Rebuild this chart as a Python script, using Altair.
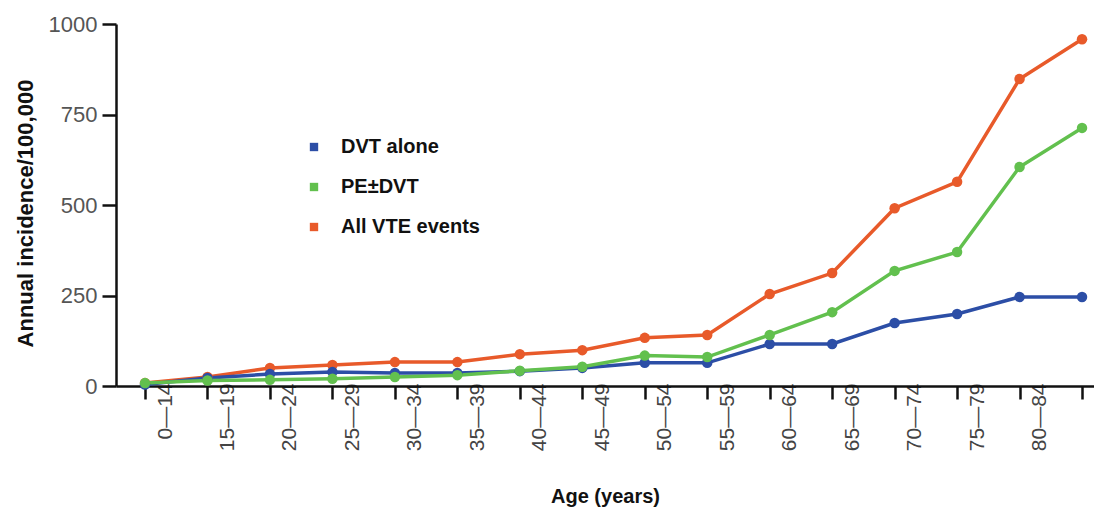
import altair as alt
import pandas as pd

age_groups = ["0—14", "15—19", "20—24", "25—29", "30—34", "35—39", "40—44", "45—49",
              "50—54", "55—59", "60—64", "65—69", "70—74", "75—79", "80—84", "≥85"]
dvt_alone = [4, 22, 33, 39, 36, 36, 41, 50, 64, 64, 116, 116, 174, 199, 246, 246]
pe_dvt = [8, 15, 17, 20, 25, 30, 42, 53, 84, 80, 141, 204, 318, 370, 605, 713]
all_vte = [8, 25, 50, 58, 66, 66, 88, 99, 133, 141, 254, 312, 491, 564, 848, 958]

series_names = ["DVT alone", "PE±DVT", "All VTE events"]
series_colors = ["#2C4EA6", "#62C04E", "#E85A2A"]
y_ticks = [0, 250, 500, 750, 1000]

rows = []
for name, vals in [("All VTE events", all_vte), ("DVT alone", dvt_alone), ("PE±DVT", pe_dvt)]:
    for g, v in zip(age_groups, vals):
        rows.append({"age": g, "value": v, "series": name})
df = pd.DataFrame(rows)

FONT = "Liberation Sans"

x_enc = alt.X(
    "age:N",
    sort=age_groups,
    scale=alt.Scale(type="point", padding=0.328, align=0.708),
    axis=alt.Axis(
        title="Age (years)", titleFontSize=20, titleFontWeight="bold", titleFont=FONT,
        titleColor="#111", titleY=116, titleBaseline="alphabetic",
        labelAngle=270, labelFontSize=21, labelFont=FONT, labelColor="#444",
        labelPadding=-16, labelOffset=20, labelOverlap=False,
        tickSize=13, tickWidth=2.5, tickColor="#111",
        domainWidth=2.5, domainColor="#111", grid=False,
    ),
)
y_enc = alt.Y(
    "value:Q",
    scale=alt.Scale(domain=[0, 1000], nice=False),
    axis=alt.Axis(
        title="Annual incidence/100,000", titleFontSize=22, titleFontWeight="bold",
        titleFont=FONT, titleColor="#111", titleX=-91, titleY=189, titleBaseline="middle",
        values=y_ticks, format="d", labelFontSize=22, labelFont=FONT, labelColor="#555",
        labelPadding=5, tickSize=14, tickWidth=2.5, tickColor="#111",
        domainWidth=2.5, domainColor="#111", grid=False,
    ),
)
color_enc = alt.Color(
    "series:N",
    scale=alt.Scale(domain=series_names, range=series_colors),
    legend=alt.Legend(
        title=None, orient="none", legendX=188, legendY=113,
        symbolType="square", symbolSize=70, symbolStrokeWidth=0,
        labelFontSize=20, labelFontWeight="bold", labelFont=FONT, labelColor="#111",
        labelOffset=17, rowPadding=20, padding=0,
    ),
)

base = alt.Chart(df).encode(x=x_enc, y=y_enc, color=color_enc)
lines = base.mark_line(strokeWidth=3.5)
points = base.mark_circle(size=110, opacity=1)

chart = alt.layer(lines, points).properties(
    width=978, height=362,
    autosize=alt.AutoSizeParams(type="none"),
    padding={"left": 108, "top": 16, "right": 0, "bottom": 123},
    background="white",
).configure_view(stroke=None)

chart.save("out.html", embed_options={"renderer": "svg", "actions": False})
